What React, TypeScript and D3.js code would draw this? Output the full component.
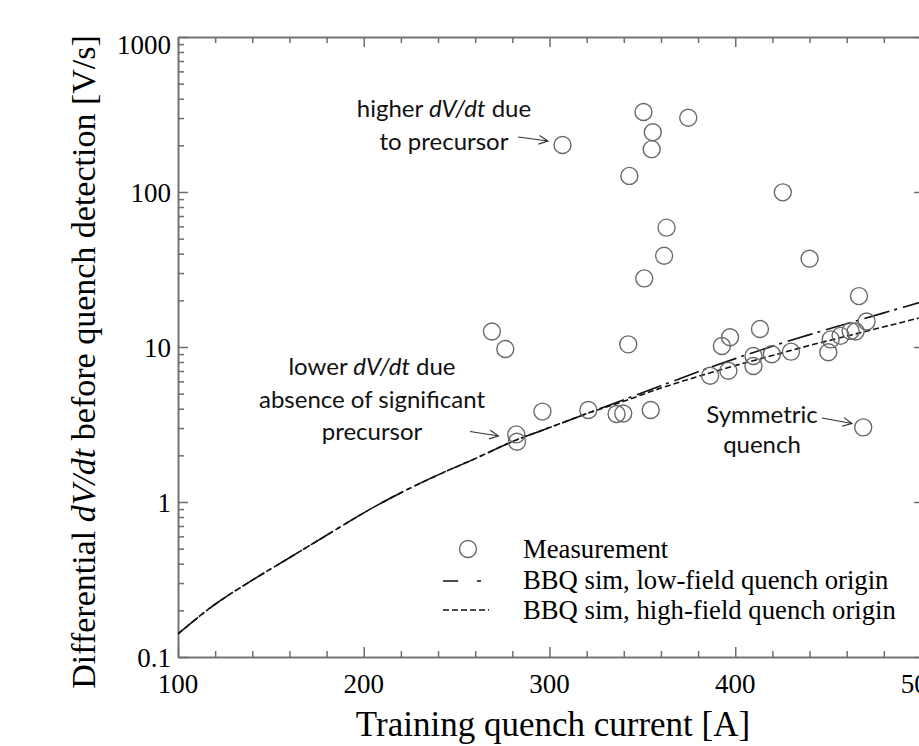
import React, { useEffect, useRef } from 'react';
import * as d3 from 'd3';

// measured training quenches: current [A] and dV/dt [V/s]
const measCurrent = [
  307, 350.6, 355.6, 355, 374.7, 343, 363, 361.7, 351, 425.6, 440, 466.6,
  269, 276.2, 342.4, 296.2, 320.9, 336.1, 339.7, 354.5, 282.1, 282.5,
  392.8, 397.2, 413.3, 386.5, 396.3, 409.8, 409.8, 419.7, 430, 450.1,
  451.4, 456.7, 462.1, 464.8, 470.7, 468.9,
];
const measDvdt = [
  201, 328, 243, 189, 301, 127, 58.9, 38.8, 27.7, 99.5, 37.1, 21.3,
  12.6, 9.7, 10.4, 3.83, 3.92, 3.7, 3.72, 3.92, 2.73, 2.45,
  10.15, 11.55, 13.07, 6.53, 7.03, 8.75, 7.54, 8.97, 9.33, 9.24,
  11.2, 11.8, 12.7, 12.6, 14.6, 3.03,
];

// BBQ simulations
const simCurrent = [100, 120, 140, 160, 180, 200, 220, 240, 260, 280, 300, 320, 340, 360, 380, 400, 420, 440, 460, 480, 500];
const simLowField = [0.141, 0.219, 0.313, 0.437, 0.61, 0.851, 1.148, 1.496, 1.905, 2.455, 3.02, 3.715, 4.571, 5.623, 6.918, 8.414, 10.12, 12.02, 14.13, 16.6, 19.5];
const simHighField = [0.141, 0.219, 0.313, 0.437, 0.61, 0.851, 1.148, 1.496, 1.905, 2.455, 3.02, 3.715, 4.467, 5.433, 6.457, 7.586, 8.81, 10.23, 11.75, 13.49, 15.49];

const xTicks = [100, 200, 300, 400, 500];
const xMinorTicks = [120, 140, 160, 180, 220, 240, 260, 280, 320, 340, 360, 380, 420, 440, 460, 480];
const yTicks = [0.1, 1, 10, 100, 1000];
const yTickLabels = ['0.1', '1', '10', '100', '1000'];

const legendLabels = ['Measurement', 'BBQ sim, low-field quench origin', 'BBQ sim, high-field quench origin'];

const serif = '"Liberation Serif", "Times New Roman", serif';
const sans = 'Lato, "Open Sans", sans-serif';
const axisColor = '#6e6e6e';

const App = () => {
  const ref = useRef<SVGSVGElement>(null);

  useEffect(() => {
    const svg = d3.select(ref.current);
    svg.selectAll('*').remove();

    const x = d3.scaleLinear().domain([100, 500]).range([178, 921]);
    const y = d3.scaleLog().domain([0.1, 1000]).range([657, 37]);
    const [x0, x1] = x.range();
    const [y0, y1] = y.range();

    const styleAxis = (g: any) => {
      g.select('.domain').attr('stroke', axisColor).attr('stroke-width', 1.5);
      g.selectAll('.tick line').attr('stroke', axisColor).attr('stroke-width', 1.5);
      g.selectAll('.tick text').remove();
    };

    const yMinor = y.ticks().filter((v) => !yTicks.some((t) => Math.abs(t - v) < 1e-9));

    // frame: bottom / top / left / right, ticks pointing inwards
    svg.append('g').attr('transform', `translate(0,${y0})`)
      .call(d3.axisBottom(x).tickValues(xMinorTicks).tickSize(-6).tickSizeOuter(0)).call(styleAxis);
    svg.append('g').attr('transform', `translate(0,${y0})`)
      .call(d3.axisBottom(x).tickValues(xTicks).tickSize(-10).tickSizeOuter(0)).call(styleAxis);
    svg.append('g').attr('transform', `translate(0,${y1})`)
      .call(d3.axisTop(x).tickValues(xMinorTicks).tickSize(-6).tickSizeOuter(0)).call(styleAxis);
    svg.append('g').attr('transform', `translate(0,${y1})`)
      .call(d3.axisTop(x).tickValues(xTicks).tickSize(-10).tickSizeOuter(0)).call(styleAxis);
    svg.append('g').attr('transform', `translate(${x0},0)`)
      .call(d3.axisLeft(y).tickValues(yMinor).tickSize(-6).tickSizeOuter(0)).call(styleAxis);
    svg.append('g').attr('transform', `translate(${x0},0)`)
      .call(d3.axisLeft(y).tickValues(yTicks).tickSize(-10).tickSizeOuter(0)).call(styleAxis);
    // right frame sits just past the window edge; only the major ticks peek in
    svg.append('g').attr('transform', `translate(${x1 + 1},0)`)
      .call(d3.axisRight(y).tickValues(yTicks).tickSize(-8).tickSizeOuter(0)).call(styleAxis);

    // tick labels
    svg.append('g').selectAll('text').data(xTicks).enter().append('text')
      .attr('x', (d) => x(d)).attr('y', y0 + 36)
      .attr('text-anchor', 'middle').attr('font-family', serif).attr('font-size', 27)
      .text((d) => String(d));
    svg.append('g').selectAll('text').data(yTicks).enter().append('text')
      .attr('x', x0 - 7).attr('y', (d) => y(d) + (d === 1000 ? 8 : 1))
      .attr('dominant-baseline', 'central')
      .attr('text-anchor', 'end').attr('font-family', serif).attr('font-size', 27)
      .text((d, i) => yTickLabels[i]);

    // axis titles
    svg.append('text').attr('x', 553).attr('y', 736)
      .attr('text-anchor', 'middle').attr('font-family', serif).attr('font-size', 35)
      .text('Training quench current [A]');
    const yt = svg.append('text')
      .attr('transform', 'translate(95,362) rotate(-90)')
      .attr('text-anchor', 'middle').attr('font-family', serif).attr('font-size', 34);
    yt.append('tspan').text('Differential ');
    yt.append('tspan').attr('font-style', 'italic').text('dV/dt');
    yt.append('tspan').text(' before quench detection [V/s]');

    // simulation curves
    svg.append('clipPath').attr('id', 'plot-clip').append('rect')
      .attr('x', x0).attr('y', y1).attr('width', x1 - x0).attr('height', y0 - y1);
    const line = d3.line<number>()
      .x((d, i) => x(simCurrent[i]))
      .y((d) => y(d))
      .curve(d3.curveMonotoneX);
    svg.append('path').datum(simLowField)
      .attr('d', line).attr('clip-path', 'url(#plot-clip)')
      .attr('fill', 'none').attr('stroke', '#111').attr('stroke-width', 1.6)
      .attr('stroke-dasharray', '26,5,3,6');
    svg.append('path').datum(simHighField)
      .attr('d', line).attr('clip-path', 'url(#plot-clip)')
      .attr('fill', 'none').attr('stroke', '#111').attr('stroke-width', 1.6)
      .attr('stroke-dasharray', '6,3');

    // measurements
    svg.append('g').selectAll('circle').data(measCurrent).enter().append('circle')
      .attr('cx', (d) => x(d)).attr('cy', (d, i) => y(measDvdt[i]))
      .attr('r', 8.5).attr('fill', 'none').attr('stroke', '#6a6a6a').attr('stroke-width', 1.4);

    // legend
    const lg = svg.append('g');
    lg.append('circle').attr('cx', 468).attr('cy', 549).attr('r', 8.5)
      .attr('fill', 'none').attr('stroke', '#6a6a6a').attr('stroke-width', 1.4);
    lg.append('line').attr('x1', 443).attr('x2', 481).attr('y1', 581).attr('y2', 581)
      .attr('stroke', '#111').attr('stroke-width', 1.6).attr('stroke-dasharray', '15,19,4,100');
    lg.append('line').attr('x1', 443).attr('x2', 489).attr('y1', 610).attr('y2', 610)
      .attr('stroke', '#111').attr('stroke-width', 1.6).attr('stroke-dasharray', '6,3');
    lg.selectAll('text.lab').data(legendLabels).enter().append('text')
      .attr('x', 523).attr('y', (d, i) => 549 + i * 30.5)
      .attr('dominant-baseline', 'central')
      .attr('font-family', serif).attr('font-size', 26.7)
      .text((d) => d);

    // annotations
    const note = (lines: string[][], cx: number, cy: number, gap: number) => {
      lines.forEach((parts, i) => {
        const t = svg.append('text').attr('x', cx).attr('y', cy + i * gap)
          .attr('text-anchor', 'middle').attr('dominant-baseline', 'central')
          .attr('font-family', sans).attr('font-size', 24).attr('fill', '#111');
        parts.forEach((p, j) => {
          t.append('tspan').attr('font-style', j === 1 ? 'italic' : 'normal').text(p);
        });
      });
    };
    note([['higher ', 'dV/dt', ' due'], ['to precursor']], 444, 107, 33);
    note([['lower ', 'dV/dt', ' due'], ['absence of significant'], ['precursor']], 372, 365, 32.5);
    note([['Symmetric'], ['quench']], 762, 413, 30);

    const arrow = (ax: number, ay: number, bx: number, by: number) => {
      const a = Math.atan2(by - ay, bx - ax);
      const h = 10;
      const p = d3.path();
      p.moveTo(ax, ay);
      p.lineTo(bx, by);
      p.moveTo(bx - h * Math.cos(a - 0.45), by - h * Math.sin(a - 0.45));
      p.lineTo(bx, by);
      p.lineTo(bx - h * Math.cos(a + 0.45), by - h * Math.sin(a + 0.45));
      svg.append('path').attr('d', p.toString()).attr('fill', 'none')
        .attr('stroke', '#333').attr('stroke-width', 1.1);
    };
    arrow(518, 137, 548, 141);
    arrow(470, 431.5, 498.5, 436);
    arrow(822, 418, 852, 423.5);
  }, []);

  return (
    <svg ref={ref} width={919} height={746}
      style={{ position: 'absolute', left: 0, top: 0, background: '#fff' }} />
  );
};

export default App;
